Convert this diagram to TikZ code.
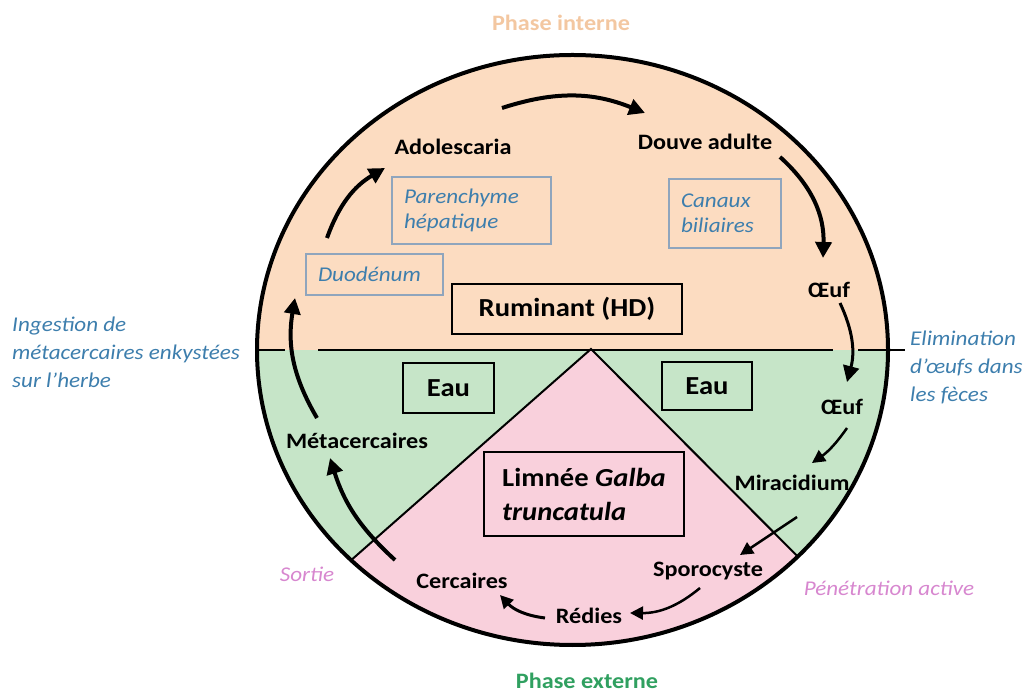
\documentclass[tikz,border=0pt]{standalone}
\usepackage{fontspec}
\setmainfont{Carlito}[FakeStretch=1.1]
\usetikzlibrary{arrows.meta}

\definecolor{peau}{HTML}{FCDCC1}
\definecolor{eau}{HTML}{C6E5C8}
\definecolor{limn}{HTML}{F9D0DC}
\definecolor{bleu}{HTML}{3D7EAD}
\definecolor{grisbleu}{HTML}{8FA5BD}
\definecolor{mauve}{HTML}{D787CF}
\definecolor{interne}{HTML}{F3C7A1}
\definecolor{externe}{HTML}{30A060}

\tikzset{
  lab/.style={font=\bfseries\fontsize{22}{26}\selectfont, inner sep=0pt},
  titre/.style={font=\bfseries\fontsize{22}{26}\selectfont, inner sep=0pt},
  hote/.style={draw, line width=1.5pt, font=\bfseries\fontsize{26}{34}\selectfont},
  site/.style={draw=grisbleu, line width=1.2pt, text=bleu, align=left, inner xsep=12pt,
    font=\itshape\fontsize{21}{25}\selectfont},
  cote/.style={text=bleu, align=left, inner sep=0pt, font=\itshape\fontsize{21}{28}\selectfont},
  entree/.style={text=mauve, inner sep=0pt, font=\itshape\fontsize{21}{25}\selectfont},
  cyc/.style={line width=4pt, -{Triangle[length=16pt,width=16pt]}},
  cycfin/.style={line width=2.5pt, -{Triangle[length=13pt,width=13pt]}}
}

\begin{document}
\begin{tikzpicture}[x=1pt,y=1pt]
\useasboundingbox (0,0) rectangle (1030,696);

% fonds du cycle
\begin{scope}
\clip (572.5,346) ellipse [x radius=315.5, y radius=295];
\fill[peau] (250,346) rectangle (895,650);
\fill[eau] (250,40) rectangle (895,346);
\fill[limn] (591,347) -- (282,75) -- (282,40) -- (860,40) -- (860,77) -- cycle;
\draw[line width=2pt] (282,75) -- (591,347) -- (860,77);
\end{scope}
\draw[line width=2.5pt] (257,346) -- (285,346) (318,346) -- (833,346) (858,346) -- (905,346);
\draw[line width=4pt] (572.5,346) ellipse [x radius=315.5, y radius=295];

\node[titre, text=interne] (phint) at (561,673) {Phase interne};
\node[titre, text=externe] (phext) at (587,15) {Phase externe};

% organes et milieux
\node[site, text width=135pt, minimum height=67pt] (paren) at (471.5,485.5) {Parenchyme\\hépatique};
\node[site, text width=88pt, minimum height=69pt] (canaux) at (725,482.5) {Canaux\\biliaires};
\node[site, text width=113pt, minimum height=41pt] (duod) at (374.5,421.5) {Duodénum};

\node[hote, minimum width=230pt, minimum height=50pt] (rumi) at (567,387) {Ruminant (HD)};
\node[hote, minimum width=91pt, minimum height=50pt] (eaug) at (448.5,308) {Eau};
\node[hote, minimum width=90pt, minimum height=48pt] (eaud) at (707,310) {Eau};
\node[hote, align=left, minimum width=200pt, minimum height=84pt] (limnee) at (584,202)
  {Limnée \textit{Galba}\\\textit{truncatula}};

% stades
\node[lab] (ado) at (453,549) {Adolescaria};
\node[lab] (douve) at (705,554) {Douve adulte};
\node[lab] (oeufa) at (829,406) {Œuf};
\node[lab] (oeufb) at (842,289) {Œuf};
\node[lab] (mira) at (792,213) {Miracidium};
\node[lab] (spor) at (708,125) {Sporocyste};
\node[lab] (redies) at (589,80) {Rédies};
\node[lab] (cerc) at (462,115) {Cercaires};
\node[lab] (meta) at (357,255) {Métacercaires};

\node[cote, anchor=west] (ingest) at (12,344) {Ingestion de\\métacercaires enkystées\\sur l’herbe};
\node[cote, anchor=west] (elim) at (910,329) {Elimination\\d’œufs dans\\les fèces};
\node[entree] (sortie) at (307,122) {Sortie};
\node[entree] (penet) at (889,108) {Pénétration active};

% fleches du cycle
\draw[cyc] ([shift={(49,39)}]ado.center) to[bend left=20] ([shift={(-60,29)}]douve.center);
\draw[cyc] ([shift={(75,-15)}]douve.center) to[bend left=25] ([shift={(-6,32)}]oeufa.center);
\draw[cyc, line width=3pt] ([shift={(11,-13)}]oeufa.center) to[bend left=20] ([shift={(5,25)}]oeufb.center);
\draw[cycfin] ([shift={(5,-21)}]oeufb.center) to[bend left=10] ([shift={(20,20)}]mira.center);
\draw[cycfin] ([shift={(5,-34)}]mira.center) -- ([shift={(32,16)}]spor.center);
\draw[cycfin] ([shift={(-8,-17)}]spor.center) to[bend left=20] ([shift={(41,3)}]redies.center);
\draw[cycfin, line width=3pt] ([shift={(-44,-2)}]redies.center) to[bend left=20] ([shift={(38,-14)}]cerc.center);
\draw[cyc] ([shift={(-67,21)}]cerc.center) to[bend left=15] ([shift={(-27,-17)}]meta.center);
\draw[cyc] ([shift={(-40,23)}]meta.center) to[bend left=20] ([shift={(-79.5,-23.5)}]duod.center);
\draw[cyc] ([shift={(-47.5,36.5)}]duod.center) to[bend left=20] ([shift={(-68,-21)}]ado.center);

\end{tikzpicture}
\end{document}
